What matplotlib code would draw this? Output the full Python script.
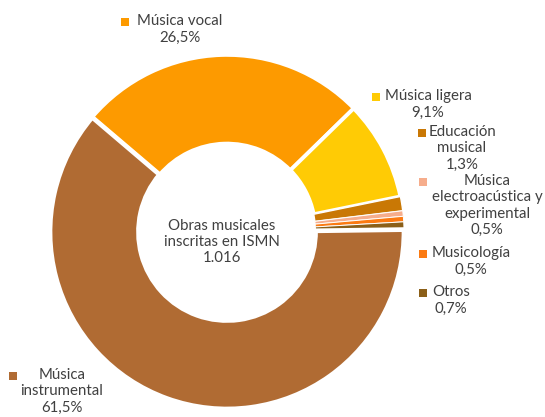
import matplotlib.pyplot as plt
from matplotlib.patches import Rectangle

# data
categories = ["Música vocal", "Música ligera", "Educación musical",
              "Música electroacústica y experimental", "Musicología",
              "Otros", "Música instrumental"]
shares = [26.5, 9.1, 1.3, 0.5, 0.5, 0.7, 61.5]
pct_labels = ["26,5%", "9,1%", "1,3%", "0,5%", "0,5%", "0,7%", "61,5%"]
colors = ["#FD9A00", "#FFCB05", "#C97805", "#F6AD8C", "#FB7A12", "#8B5F18", "#B06B33"]
center_text = "Obras musicales\ninscritas en ISMN\n1.016"

# label text as wrapped in the reference
label_lines = ["Música vocal", "Música ligera", "Educación\nmusical",
               "Música\nelectroacústica y\nexperimental", "Musicología",
               "Otros", "Música\ninstrumental"]

W, H = 545, 417
plt.rcParams['font.family'] = ['Lato', 'DejaVu Sans']
fig = plt.figure(figsize=(W / 100, H / 100), dpi=100)

# axes placed so the ring sits where it does in the reference
R = 177
cx, cy = 227, 232
ax = fig.add_axes([(cx - R) / W, (H - cy - R) / H, 2 * R / W, 2 * R / H])

edge_w = [2.6, 2.8, 1.0, 0.7, 0.7, 0.7, 3.4]
wedges, _ = ax.pie(shares, colors=colors, startangle=139.6, counterclock=False,
                   radius=1.0, wedgeprops=dict(width=0.5, edgecolor="white"))
for w, lw in zip(wedges, edge_w):
    w.set_linewidth(lw)
ax.set_xlim(-1, 1)
ax.set_ylim(-1, 1)
ax.axis("off")

txt_col = "#404040"
fs = 10.8

def fx(x):
    return x / W

def fy(y):
    return 1 - y / H

fig.text(fx(222), fy(242), center_text, ha="center", va="center",
         fontsize=fs, color=txt_col, linespacing=1.22)

# legend-like labels: (square x, first line y, text center x)
label_pos = [(125, 22, 180), (376, 97, 428), (422, 133, 462), (423, 182, 487),
             (423, 254, 471), (423, 293, 451), (13, 376, 62)]

sq = 8
for name, pct, col, (sx, ly, tx) in zip(label_lines, pct_labels, colors, label_pos):
    fig.add_artist(Rectangle((fx(sx - sq / 2), fy(ly + sq / 2)), sq / W, sq / H,
                             transform=fig.transFigure, color=col, lw=0))
    fig.text(fx(tx), fy(ly - 8), name + "\n" + pct, ha="center", va="top",
             fontsize=fs, color=txt_col, linespacing=1.22)

fig.savefig("out.png", dpi=100)
